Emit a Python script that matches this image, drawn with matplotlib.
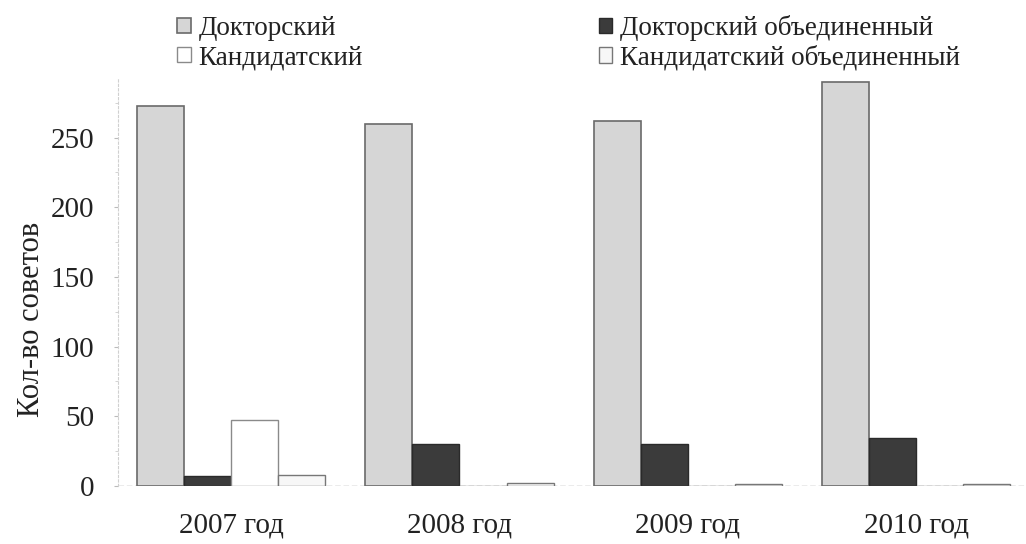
import matplotlib.pyplot as plt
import numpy as np

plt.rcParams['font.family'] = ['Liberation Serif', 'DejaVu Serif']

years = ['2007 год', '2008 год', '2009 год', '2010 год']
dokt = [273, 260, 262, 290]
dokt_ob = [7, 30, 30, 34]
kand = [47, 0, 0, 0]
kand_ob = [8, 2, 1.5, 1.5]

labels = ['Докторский', 'Докторский объединенный', 'Кандидатский', 'Кандидатский объединенный']

fig = plt.figure(figsize=(10.26, 5.44), dpi=100)
ax = fig.add_axes([0.115, 0.107, 0.885, 0.75])

x = np.arange(4)
w = 0.206
b1 = ax.bar(x - 1.5*w, dokt, w, color='#d6d6d6', edgecolor='#6a6a6a', linewidth=1.2, zorder=3)
b2 = ax.bar(x - 0.5*w, dokt_ob, w, color='#3b3b3b', edgecolor='#2a2a2a', linewidth=1.0, zorder=3)
b3 = ax.bar(x + 0.5*w, kand, w, color='white', edgecolor='#8a8a8a', linewidth=1.0, zorder=3)
b4 = ax.bar(x + 1.5*w, kand_ob, w, color='#f7f7f7', edgecolor='#777777', linewidth=1.0, zorder=3)

ax.axhline(0, color='#9a9a9a', lw=1, ls=(0, (4, 2)), zorder=2)

ax.set_xlim(-0.495, 3.48)
ax.set_ylim(0, 293)
ax.set_yticks([0, 50, 100, 150, 200, 250])
ax.set_yticks(np.arange(0, 276, 25), minor=True)
ax.set_xticks(x)
ax.set_xticklabels(years)
ax.tick_params(axis='x', length=0, pad=19, labelsize=21, labelcolor='#222222')
ax.tick_params(axis='y', which='major', length=3, color='#bbbbbb', pad=14, labelsize=21, labelcolor='#222222')
ax.tick_params(axis='y', which='minor', length=2, color='#cccccc')
for s in ['top', 'right', 'bottom']:
    ax.spines[s].set_visible(False)
ax.spines['left'].set_color('#d0d0d0')
ax.spines['left'].set_linestyle((0, (2, 2)))
ax.set_ylabel('Кол-во советов', fontsize=22, color='#222222')
ax.yaxis.set_label_coords(-0.079, 0.407)

fig.legend([b1, b3, b2, b4], [labels[0], labels[2], labels[1], labels[3]],
           ncol=2, loc='upper left', bbox_to_anchor=(177/1026, 1 - 15/544), frameon=False,
           borderpad=0, borderaxespad=0,
           fontsize=19.5, handlelength=0.5, handleheight=0.5, handletextpad=0.3,
           columnspacing=8.7, labelspacing=0.15, labelcolor='#222222')

fig.savefig('out.png', dpi=100)
